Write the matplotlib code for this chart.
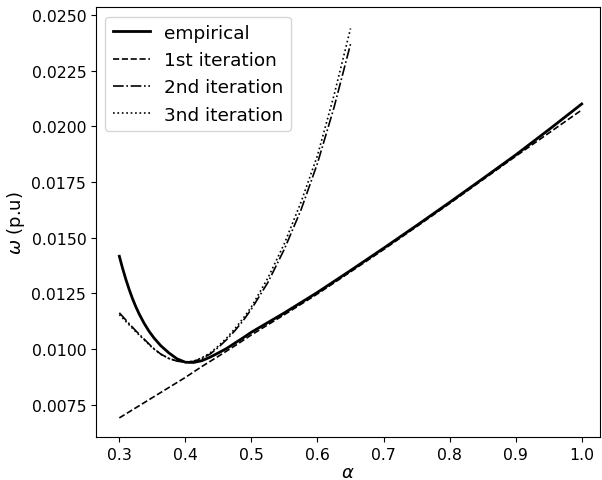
import numpy as np
import matplotlib
matplotlib.use("Agg")
import matplotlib.pyplot as plt

# values
alpha_emp = [0.300, 0.305, 0.310, 0.315, 0.320, 0.325, 0.330, 0.3375, 0.345, 0.3525,
             0.3625, 0.375, 0.3875, 0.400, 0.4125, 0.425, 0.4375, 0.450, 0.4625,
             0.475, 0.4875, 0.500, 0.55, 0.60, 0.65, 0.70, 0.75, 0.80, 0.85,
             0.90, 0.95, 1.00]
w_emp = [0.01417, 0.01362, 0.01312, 0.01267, 0.01226, 0.01190, 0.01158, 0.01116, 0.01080, 0.01050,
         0.01016, 0.00983, 0.00956, 0.00941, 0.00940, 0.00948, 0.00964, 0.00983, 0.01003,
         0.01027, 0.01051, 0.01076, 0.01163, 0.01255, 0.01353, 0.01453, 0.01555, 0.01659, 0.01765,
         0.01872, 0.01985, 0.02101]

alpha_1st = [0.30, 0.35, 0.40, 0.425, 0.45, 0.475, 0.50, 0.55, 0.60, 0.65,
             0.70, 0.75, 0.80, 0.85, 0.90, 0.95, 1.00]
w_1st = [0.00691, 0.00782, 0.00873, 0.00922, 0.00968, 0.01015, 0.01064, 0.01155, 0.01248, 0.01347,
         0.01447, 0.01550, 0.01654, 0.01760, 0.01866, 0.01970, 0.02074]

alpha_it = [0.300, 0.3125, 0.325, 0.3375, 0.350, 0.3625, 0.375, 0.3875, 0.400,
            0.4125, 0.425, 0.4375, 0.450, 0.4625, 0.475, 0.4875, 0.500,
            0.525, 0.550, 0.575, 0.600, 0.625, 0.650]
w_2nd = [0.01163, 0.01122, 0.01082, 0.01045, 0.01008, 0.00978, 0.00958, 0.00946, 0.00941,
         0.00945, 0.00958, 0.00978, 0.01008, 0.01043, 0.01083, 0.01128, 0.01180,
         0.01300, 0.01450, 0.01625, 0.01835, 0.02085, 0.02370]
w_3rd = [0.01155, 0.01116, 0.01078, 0.01042, 0.01006, 0.00977, 0.00958, 0.00946, 0.00941,
         0.00946, 0.00961, 0.00983, 0.01014, 0.01050, 0.01092, 0.01138, 0.01190,
         0.01320, 0.01475, 0.01660, 0.01870, 0.02140, 0.02440]

fig = plt.figure(figsize=(6.02, 4.81), dpi=100)
ax = fig.add_axes([0.1595, 0.0888, 0.8372, 0.8939])

ax.plot(alpha_emp, w_emp, color="black", lw=2, label="empirical")
ax.plot(alpha_1st, w_1st, color="black", lw=1.2, ls="--", label="1st iteration")
ax.plot(alpha_it, w_2nd, color="black", lw=1.2, ls="-.", label="2nd iteration")
ax.plot(alpha_it, w_3rd, color="black", lw=1.2, ls=":", label="3nd iteration")

ax.set_xlim(0.2647, 1.0277)
ax.set_ylim(0.00604, 0.02535)
ax.set_xticks([0.3, 0.4, 0.5, 0.6, 0.7, 0.8, 0.9, 1.0])
ax.set_yticks([0.0075, 0.0100, 0.0125, 0.0150, 0.0175, 0.0200, 0.0225, 0.0250])
ax.yaxis.set_major_formatter(matplotlib.ticker.FormatStrFormatter("%.4f"))
ax.tick_params(labelsize=11.3)
ax.set_xlabel(r"$\alpha$", fontsize=13, labelpad=1)
ax.set_ylabel(r"$\omega$ (p.u)", fontsize=13, labelpad=3)
ax.legend(loc="upper left", fontsize=13.3)

fig.savefig("out.png", dpi=100)
